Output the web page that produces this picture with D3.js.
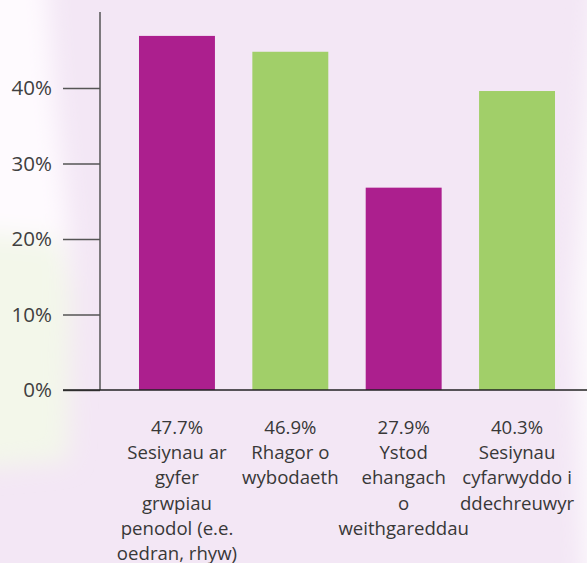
<!DOCTYPE html>
<html>
<head>
<meta charset="utf-8">
<script src="https://cdn.jsdelivr.net/npm/d3@7"></script>
<style>
  body { margin: 0; background: #f3e7f5; }
  svg { display: block; }
</style>
</head>
<body>
<div id="chart"></div>
<script>
// données
var categories = [
  "Sesiynau ar\ngyfer\ngrwpiau\npenodol (e.e.\noedran, rhyw)",
  "Rhagor o\nwybodaeth",
  "Ystod\nehangach\no\nweithgareddau",
  "Sesiynau\ncyfarwyddo i\nddechreuwyr"
];
var barValues = [46.9, 44.8, 26.8, 39.6];
var valueLabels = ["47.7%", "46.9%", "27.9%", "40.3%"];
var barColors = ["#ac1f8e", "#a1cf69", "#ac1f8e", "#a1cf69"];
var yTicks = [0, 10, 20, 30, 40];

var width = 587,
    height = 563,
    x0 = 100,
    baseY = 390;

var svg = d3.select("#chart").append("svg")
  .attr("width", width)
  .attr("height", height);

// fond : lavande avec taches floues à gauche et à droite
var defs = svg.append("defs");
defs.append("filter").attr("id", "blur")
  .attr("x", "-50%").attr("y", "-50%").attr("width", "200%").attr("height", "200%")
  .append("feGaussianBlur").attr("stdDeviation", 12);

svg.append("rect").attr("width", width).attr("height", height).attr("fill", "#f3e7f5");

var bg = svg.append("g").attr("filter", "url(#blur)");
bg.append("path")
  .attr("d", "M-40,-40 L45,-40 L55,100 L68,220 L72,290 L-40,290 Z")
  .attr("fill", "#fefafe");
bg.append("path")
  .attr("d", "M-40,230 L60,240 L72,300 L68,460 L-40,470 Z")
  .attr("fill", "#f3f7ea");
bg.append("path")
  .attr("d", "M598,-40 L640,-40 L640,600 L585,600 L575,300 Z")
  .attr("fill", "#fdfbfd");

// échelles
var x = d3.scaleBand()
  .domain(d3.range(categories.length))
  .range([x0, 594])
  .paddingInner(0.33)
  .paddingOuter(0.344);

var y = d3.scaleLinear()
  .domain([0, 10])
  .range([baseY, baseY - 75.5]);

// axe Y
var yAxis = d3.axisLeft(y)
  .tickValues(yTicks)
  .tickSize(37)
  .tickPadding(11)
  .tickFormat(function(d){ return d + "%"; });

var gy = svg.append("g")
  .attr("transform", "translate(" + x0 + ",0)")
  .call(yAxis);
gy.select(".domain").remove();
gy.selectAll(".tick line").attr("stroke", "#555").attr("stroke-width", 1.5);
gy.selectAll(".tick text")
  .attr("fill", "#404040")
  .style("font-family", "'Open Sans', sans-serif")
  .style("font-size", "20.5px");

svg.append("line")
  .attr("x1", x0).attr("x2", x0)
  .attr("y1", 12).attr("y2", baseY)
  .attr("stroke", "#555").attr("stroke-width", 1.5);

// barres
svg.selectAll("rect.bar")
  .data(barValues)
  .enter().append("rect")
  .attr("class", "bar")
  .attr("x", function(d, i){ return x(i); })
  .attr("width", x.bandwidth())
  .attr("y", function(d){ return y(d); })
  .attr("height", function(d){ return baseY - y(d); })
  .attr("fill", function(d, i){ return barColors[i]; });

// ligne de base
svg.append("line")
  .attr("x1", 63).attr("x2", width)
  .attr("y1", baseY).attr("y2", baseY)
  .attr("stroke", "#222").attr("stroke-width", 1.5);

// étiquettes sous les barres
var labels = svg.selectAll("text.cat")
  .data(categories)
  .enter().append("text")
  .attr("class", "cat")
  .attr("text-anchor", "middle")
  .attr("fill", "#383838")
  .style("font-family", "'Open Sans', sans-serif")
  .style("font-size", "18.6px")
  .attr("transform", function(d, i){ return "translate(" + (x(i) + x.bandwidth() / 2) + ",434)"; });

labels.each(function(d, i){
  var t = d3.select(this);
  var lines = [valueLabels[i]].concat(d.split("\n"));
  lines.forEach(function(l, k){
    t.append("tspan").attr("x", 0).attr("y", k * 25.2).text(l);
  });
});
</script>
</body>
</html>
